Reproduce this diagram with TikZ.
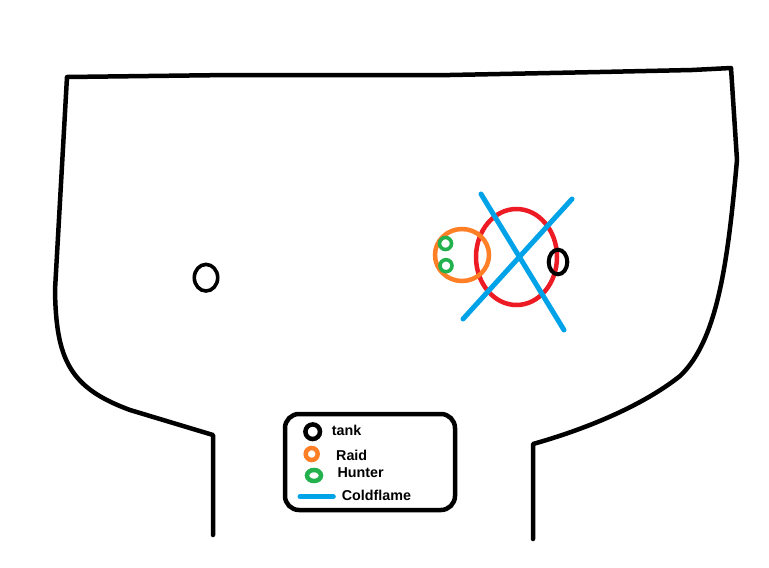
\documentclass[tikz,border=0pt]{standalone}
\usepackage{fontspec}
\setmainfont{Liberation Sans}
\definecolor{pred}{HTML}{ED1C24}
\definecolor{porange}{HTML}{FF7F27}
\definecolor{pgreen}{HTML}{22B14C}
\definecolor{pblue}{HTML}{00A2E8}
\tikzset{
  wall/.style={draw=black,line width=4.5pt,line join=round,line cap=round},
  flame/.style={draw=pblue,line width=5pt,line cap=round},
  legtext/.style={anchor=base west,inner sep=0pt,font=\bfseries\fontsize{14.3}{16}\selectfont}
}
\begin{document}
\begin{tikzpicture}[x=1pt,y=-1pt]
\useasboundingbox[fill=white] (0,0) rectangle (769,568);
% room outline
\draw[wall] (213,535) -- (213,435) -- (130,410)
  .. controls (70,388) and (56,360) .. (55,290)
  -- (67,77) -- (230,75) -- (450,75) -- (600,72) -- (692,70) -- (731,68)
  -- (737,160)
  .. controls (728,260) and (718,340) .. (680,376)
  .. controls (650,400) and (600,425) .. (533,444)
  -- (533,539);
% left tank
\draw[black,line width=3.6pt] (206,277.7) ellipse [x radius=11.7,y radius=13.3];
% red circle
\draw[pred,line width=4.5pt] (516.5,257) ellipse [x radius=40.5,y radius=48];
% orange raid
\draw[porange,line width=4.5pt] (462,255) ellipse [x radius=27,y radius=26];
% hunters
\draw[pgreen,line width=3.6pt] (445.5,243.5) circle [radius=6];
\draw[pgreen,line width=3.6pt] (446,265.7) circle [radius=6];
% right tank
\draw[black,line width=4pt] (558,262) ellipse [x radius=9.3,y radius=12.3];
% coldflame lines
\coordinate (f1a) at (481,194);
\coordinate (f1b) at (564,330);
\coordinate (f2a) at (572,199);
\coordinate (f2b) at (463,319);
\draw[flame] (f1a) -- (f1b);
\draw[flame] (f2a) -- (f2b);
% legend
\draw[line width=4.5pt,rounded corners=14pt] (285,414) rectangle (455,510);
\draw[black,line width=4.5pt] (312.7,431.7) circle [radius=7.3];
\node[legtext] (ltank) at (331.7,435.7) {tank};
\draw[porange,line width=4.5pt] (311.7,454) circle [radius=6];
\node[legtext] (lraid) at (336,460) {Raid};
\draw[pgreen,line width=4.5pt] (314,475.5) ellipse [x radius=7,y radius=5.5];
\node[legtext] (lhunter) at (337.3,477.7) {Hunter};
\coordinate (cfa) at (300,496.7);
\coordinate (cfb) at (333.3,496.7);
\draw[flame] (cfa) -- (cfb);
\node[legtext] (lcold) at (341.7,500) {Coldflame};
\end{tikzpicture}
\end{document}
